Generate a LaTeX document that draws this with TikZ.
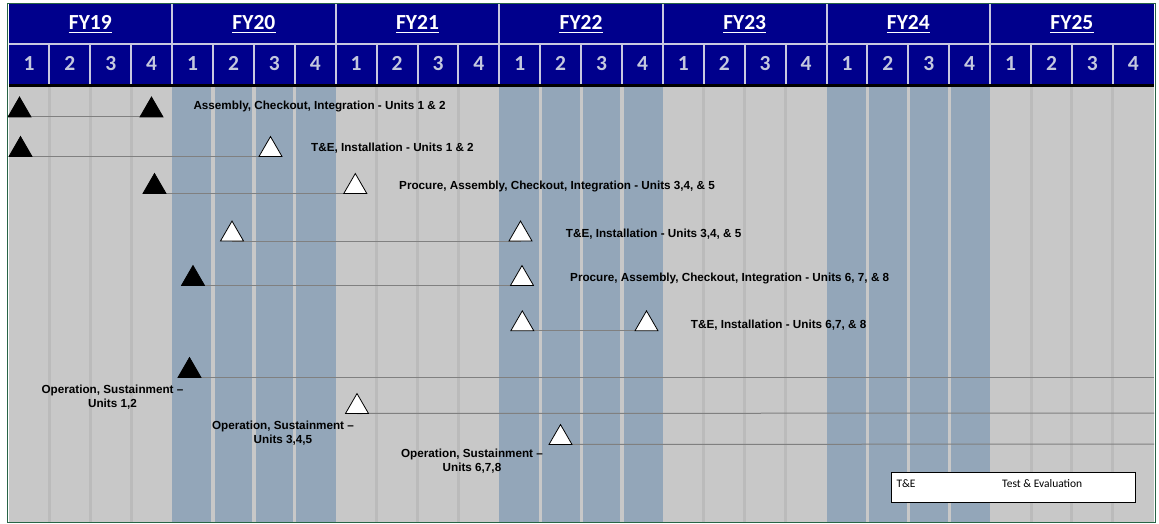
\documentclass[tikz,border=0pt]{standalone}
\usepackage{fontspec}
\setmainfont{Liberation Sans}
\newfontfamily\calibri{Carlito}
\usetikzlibrary{shapes.geometric}
\definecolor{navy}{RGB}{0,0,140}
\definecolor{hdrsep}{RGB}{200,200,224}
\definecolor{digit}{RGB}{196,200,222}
\definecolor{bodygray}{RGB}{200,200,200}
\definecolor{graysep}{RGB}{187,187,187}
\definecolor{bluecol}{RGB}{147,166,185}
\definecolor{linegray}{RGB}{128,128,128}
\definecolor{greenb}{RGB}{40,100,70}
\pgfdeclarelayer{bg}
\pgfdeclarelayer{lines}
\pgfsetlayers{bg,lines,main}
\tikzset{
 tri/.style={regular polygon, regular polygon sides=3, minimum size=26.6, inner sep=0pt, outer sep=0pt, draw=black, line width=0.8pt, anchor=south},
 blk/.style={tri, fill=black},
 wht/.style={tri, fill=white},
 rowline/.style={draw=linegray, line width=1pt},
 lab/.style={font=\fontsize{11.7}{13.8}\selectfont\bfseries, inner sep=0pt, anchor=base west, text=black},
 oplab/.style={lab, anchor=base, align=center},
 yr/.style={font=\calibri\fontsize{21.5}{24}\selectfont\bfseries, text=white, inner sep=0pt, anchor=base},
 qtr/.style={font=\calibri\fontsize{21.5}{24}\selectfont\bfseries, text=digit, inner sep=0pt, anchor=base},
 leg/.style={font=\calibri\fontsize{11.5}{13}\selectfont, inner sep=0pt, anchor=base west, text=black},
 legbox/.style={draw=black, fill=white, line width=0.8pt, minimum width=243.6pt, minimum height=30pt, inner sep=0pt},
}
\begin{document}
\begin{tikzpicture}[x=1pt,y=-1pt]
\useasboundingbox (0,0) rectangle (1159,524);
% body grid
\begin{pgfonlayer}{bg}
\fill[white] (0,0) rectangle (1159,524);
\fill[bodygray] (8.5,87.5) rectangle (1154,521.5);
\foreach \i in {0,...,27}{
  \pgfmathsetmacro\xl{8.5+40.9*\i}
  \pgfmathsetmacro\xr{\xl+40.9}
  \pgfmathtruncatemacro\yy{div(\i,4)}
  \pgfmathtruncatemacro\q{mod(\i,4)}
  \ifodd\yy
    \pgfmathsetmacro\a{\q>0 ? 1.6 : 0}
    \pgfmathsetmacro\b{\q<3 ? 1.6 : 0}
    \fill[bluecol] (\xl+\a,87.5) rectangle (\xr-\b,521.5);
  \else
    \ifnum\q>0 \draw[graysep, line width=3pt] (\xl,87.5) -- (\xl,521.5); \fi
  \fi
}
% header
\fill[navy] (8.5,4.5) rectangle (1154,84);
\fill[black] (8.5,84) rectangle (1154,87.5);
\draw[hdrsep, line width=2pt] (8.5,43.7) -- (1154,43.7);
\foreach \k in {1,...,6} \draw[hdrsep, line width=2pt] ({8.5+163.6*\k},4.5) -- ({8.5+163.6*\k},43.7);
\foreach \i in {1,...,27} \draw[hdrsep, line width=2pt] ({8.5+40.9*\i},43.7) -- ({8.5+40.9*\i},84);
\end{pgfonlayer}
% year labels
\foreach \k/\t in {0/19,1/20,2/21,3/22,4/23,5/24,6/25}{
  \node[yr] (fy\t) at ({8.5+163.6*\k+81.8},29.5) {FY\t};
  \draw[white, line width=1.5pt] ([yshift=-3pt]fy\t.base west) -- ([yshift=-3pt]fy\t.base east);
}
\foreach \i in {0,...,27}{
  \pgfmathtruncatemacro\qq{mod(\i,4)+1}
  \node[qtr] (q\i) at ({8.5+40.9*\i+20.45},71) {\qq};
}
% milestones
\node[blk] (r1a) at (19.5,117) {};
\node[blk] (r1b) at (151.5,117) {};
\node[blk] (r2a) at (20.5,156.5) {};
\node[wht] (r2b) at (270.5,156.5) {};
\node[blk] (r3a) at (154.5,193.5) {};
\node[wht] (r3b) at (355.3,193.5) {};
\node[wht] (r4a) at (232,241) {};
\node[wht] (r4b) at (520.5,241) {};
\node[blk] (r5a) at (193,285.5) {};
\node[wht] (r5b) at (522,285.5) {};
\node[wht] (r6a) at (522.3,330.8) {};
\node[wht] (r6b) at (646.5,330.8) {};
\node[blk] (r7a) at (189.5,377.5) {};
\node[wht] (r8a) at (357,413.5) {};
\node[wht] (r9a) at (560.5,444.5) {};
\coordinate (e7) at (1154,377.5);
\coordinate (e8) at (1154,413);
\coordinate (e9) at (1154,444);
\begin{pgfonlayer}{lines}
\draw[rowline] (r1a.south) -- (r1b.south);
\draw[rowline] (r2a.south) -- (r2b.south);
\draw[rowline] (r3a.south) -- (r3b.south);
\draw[rowline] (r4a.south) -- (r4b.south);
\draw[rowline] (r5a.south) -- (r5b.south);
\draw[rowline] (r6a.south) -- (r6b.south);
\draw[rowline] (r7a.south) -- (e7);
\draw[rowline] (r8a.south) -- (e8);
\draw[rowline] (r9a.south) -- (e9);
\end{pgfonlayer}
% labels
\node[lab] (l1) at (193.3,109.3) {Assembly, Checkout, Integration - Units 1 \& 2};
\node[lab] (l2) at (311,151) {T\&E, Installation - Units 1 \& 2};
\node[lab] (l3) at (399,189) {Procure, Assembly, Checkout, Integration - Units 3,4, \& 5};
\node[lab] (l4) at (565.7,237.7) {T\&E, Installation - Units 3,4, \& 5};
\node[lab] (l5) at (570,281.7) {Procure, Assembly, Checkout, Integration - Units 6, 7, \& 8};
\node[lab] (l6) at (690.7,328.3) {T\&E, Installation - Units 6,7, \& 8};
\node[oplab] (l7) at (112.5,407) {Operation, Sustainment –\\Units 1,2};
\node[oplab] (l8) at (283,443) {Operation, Sustainment –\\Units 3,4,5};
\node[oplab] (l9) at (472,471) {Operation, Sustainment –\\Units 6,7,8};
% legend
\node[legbox] (legend) at (1013.5,487.3) {};
\node[leg] (legab) at (896.3,487.7) {T\&E};
\node[leg] (legtx) at (1002,487.7) {Test \& Evaluation};
% outer border
\draw[greenb, line width=1.5pt] (7.5,3.5) rectangle (1155.5,522.5);
\end{tikzpicture}
\end{document}
